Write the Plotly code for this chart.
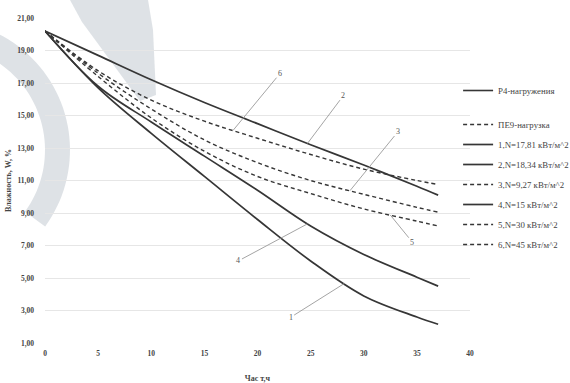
import numpy as np
import plotly.graph_objects as go

# ---------------- data ----------------
time_h = [0, 5, 10, 15, 20, 25, 30, 35, 37]
curve_1 = [20.2, 16.7, 13.9, 11.25, 8.6, 6.05, 3.9, 2.6, 2.15]
curve_2 = [20.2, 18.7, 17.2, 15.8, 14.5, 13.2, 11.95, 10.65, 10.1]
curve_3 = [20.2, 17.6, 15.4, 13.5, 12.1, 11.0, 10.15, 9.35, 9.05]
curve_4 = [20.2, 16.8, 14.6, 12.5, 10.4, 8.2, 6.45, 5.05, 4.5]
curve_5 = [20.2, 17.4, 14.85, 12.8, 11.25, 10.2, 9.25, 8.5, 8.2]
curve_6 = [20.2, 17.75, 15.95, 14.65, 13.6, 12.6, 11.7, 11.0, 10.75]

series_names = ["1,N=17,81 кВт/м^2", "2,N=18,34 кВт/м^2", "3,N=9,27 кВт/м^2",
                "4,N=15 кВт/м^2", "5,N=30 кВт/м^2", "6,N=45 кВт/м^2"]
series_values = [curve_1, curve_2, curve_3, curve_4, curve_5, curve_6]
series_dashed = [False, False, True, False, True, True]
style_names = ["Р4-нагружения", "ПЕ9-нагрузка"]

y_ticks = [1, 3, 5, 7, 9, 11, 13, 15, 17, 19, 21]
y_tick_labels = ["1,00", "3,00", "5,00", "7,00", "9,00", "11,00", "13,00",
                 "15,00", "17,00", "19,00", "21,00"]
x_ticks = [0, 5, 10, 15, 20, 25, 30, 35, 40]
x_tick_labels = ["0", "5", "10", "15", "20", "25", "30", "35", "40"]

# curve labels: label text, time where the leader touches, text offset (px)
label_text = ["1", "2", "3", "4", "5", "6"]
label_time = [28.2, 24.7, 28.7, 24.7, 32.5, 17.7]
label_dx = [-54, 36, 48, -69, 22, 47]
label_dy = [34, -48, -59, 37, 27, -57]

# ---------------- figure ----------------
W, H = 570, 383
ML, MR, MT, MB = 45, 100, 18, 40
SERIF = "Liberation Serif"
LINE_COL = "#363636"

fig = go.Figure()

fig.add_trace(go.Scatter(x=[None], y=[None], mode="lines", name=style_names[0],
                         line=dict(color=LINE_COL, width=1.6), legend="legend2"))
fig.add_trace(go.Scatter(x=[None], y=[None], mode="lines", name=style_names[1],
                         line=dict(color=LINE_COL, width=1.4, dash="4px,3px"),
                         legendgroup="g0"))

for i, (nm, vals, dashed) in enumerate(zip(series_names, series_values, series_dashed)):
    fig.add_trace(go.Scatter(
        x=time_h, y=vals, mode="lines", name=nm, legendgroup=f"g{i+1}",
        line=dict(color=LINE_COL, width=1.4 if dashed else 1.7,
                  dash="4px,3px" if dashed else "solid", shape="spline",
                  smoothing=1.0),
    ))

for txt, tt, dx, dy, vals in zip(label_text, label_time, label_dx, label_dy, series_values):
    vy = float(np.interp(tt, time_h, vals))
    fig.add_annotation(x=tt, y=vy, xref="x", yref="y", text=txt, showarrow=True,
                       arrowhead=0, arrowwidth=0.9, arrowcolor="#9a9a9a",
                       ax=dx, ay=dy, standoff=0,
                       font=dict(family=SERIF, size=8, color="#555"))

# watermark decoration (pixel geometry converted to paper coordinates)
pw, ph = W - ML - MR, H - MT - MB
def to_paper(px, py):
    return (px - ML) / pw, (H - MB - py) / ph

cx, cy, r_out, r_in = -60, 150, 130, 105
ang = np.linspace(np.radians(-66), np.radians(36), 40)
pts = [(cx + r_out * np.cos(a), cy + r_out * np.sin(a)) for a in ang]
pts += [(cx + r_in * np.cos(a), cy + r_in * np.sin(a)) for a in ang[::-1]]
path = "M " + " L ".join("%.4f,%.4f" % to_paper(px, py) for px, py in pts) + " Z"
fig.add_shape(type="path", path=path, xref="paper", yref="paper", layer="below",
              fillcolor="rgb(205,211,217)", line=dict(width=0), opacity=0.65)
band = [(70, 0), (148, 0), (153, 30), (156, 95), (140, 101), (82, 22)]
path2 = "M " + " L ".join("%.4f,%.4f" % to_paper(px, py) for px, py in band) + " Z"
fig.add_shape(type="path", path=path2, xref="paper", yref="paper", layer="below",
              fillcolor="rgb(205,211,217)", line=dict(width=0), opacity=0.65)

tick_font = dict(family=SERIF, size=7.5, color="#444", weight="bold")
leg_font = dict(family=SERIF, size=8.8, color="#444")
fig.update_layout(
    width=W, height=H, margin=dict(l=ML, r=MR, t=MT, b=MB, autoexpand=False),
    paper_bgcolor="white", plot_bgcolor="rgba(0,0,0,0)",
    showlegend=True,
    legend=dict(x=0.972, y=(H - MB - 110) / ph, xanchor="left", yanchor="top",
                font=leg_font, bgcolor="rgba(0,0,0,0)", itemwidth=30,
                traceorder="grouped", tracegroupgap=1),
    legend2=dict(x=0.972, y=(H - MB - 76) / ph, xanchor="left", yanchor="top",
                 font=leg_font, bgcolor="rgba(0,0,0,0)", itemwidth=30),
    xaxis=dict(range=[0, 40], tickvals=x_ticks, ticktext=x_tick_labels,
               showgrid=False, zeroline=False, showline=False, ticks="",
               ticklabelstandoff=4, tickfont=tick_font,
               title=dict(text="Час т,ч", font=dict(family=SERIF, size=8, color="#444",
                                                    weight="bold"), standoff=18)),
    yaxis=dict(range=[1, 21], tickvals=y_ticks, ticktext=y_tick_labels,
               showgrid=True, gridcolor="#e6e6e6", gridwidth=1, zeroline=False,
               showline=False, ticks="", ticklabelstandoff=10, tickfont=tick_font,
               title=dict(text="Влажность, W, %", font=dict(family=SERIF, size=8,
                                                           color="#444", weight="bold"),
                          standoff=4)),
)

fig.write_html("out.html")
